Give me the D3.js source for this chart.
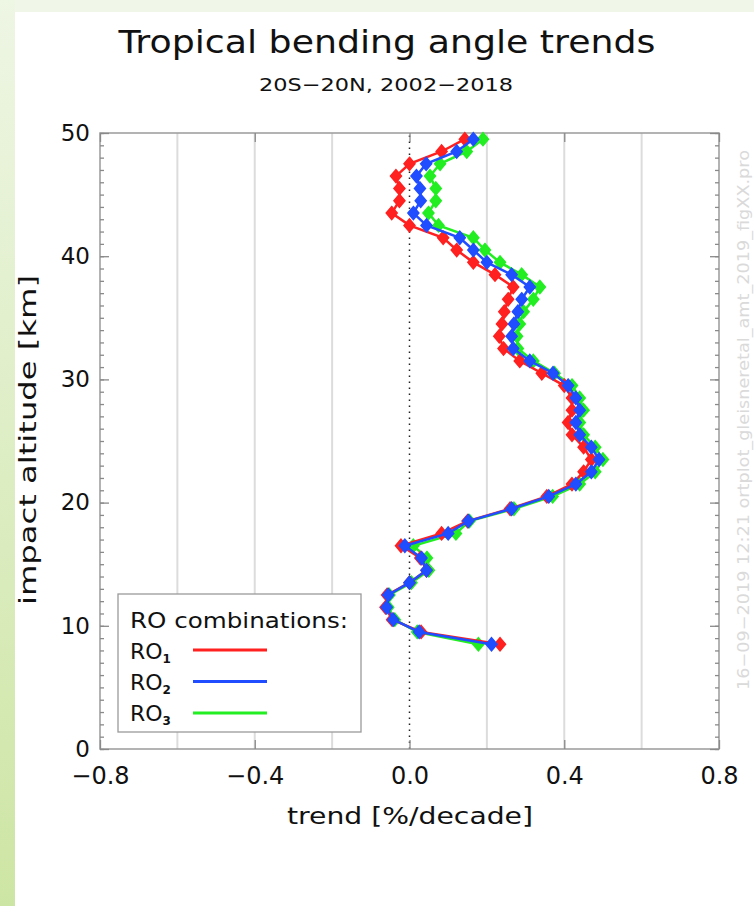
<!DOCTYPE html>
<html>
<head>
<meta charset="utf-8">
<script src="https://cdn.jsdelivr.net/npm/d3@7"></script>
<style>
  body { margin: 0; background: #fff; }
  text { font-family: "DejaVu Sans", sans-serif; fill: #111; }
</style>
</head>
<body>
<svg id="chart" width="754" height="906"></svg>
<script>
// --------------------------------------
// data
// altitude levels [km]
const levels = [49.5, 48.5, 47.5, 46.5, 45.5, 44.5, 43.5, 42.5, 41.5, 40.5,
  39.5, 38.5, 37.5, 36.5, 35.5, 34.5, 33.5, 32.5, 31.5, 30.5,
  29.5, 28.5, 27.5, 26.5, 25.5, 24.5, 23.5, 22.5, 21.5, 20.5,
  19.5, 18.5, 17.5, 16.5, 15.5, 14.5, 13.5, 12.5, 11.5, 10.5, 9.5, 8.5];

// trend [%/decade]
const ro1 = [0.143, 0.083, 0.0, -0.035, -0.026, -0.026, -0.046, 0.0, 0.087, 0.122,
  0.165, 0.221, 0.268, 0.255, 0.245, 0.239, 0.232, 0.243, 0.285, 0.342,
  0.40, 0.42, 0.42, 0.41, 0.42, 0.45, 0.47, 0.45, 0.42, 0.355,
  0.26, 0.15, 0.083, -0.022, 0.028, 0.044, 0.0, -0.058, -0.062, -0.045, 0.03, 0.234];
const ro2 = [0.165, 0.122, 0.043, 0.018, 0.027, 0.029, 0.01, 0.044, 0.13, 0.165,
  0.20, 0.264, 0.311, 0.29, 0.28, 0.27, 0.264, 0.268, 0.311, 0.371,
  0.41, 0.43, 0.44, 0.43, 0.44, 0.47, 0.49, 0.47, 0.43, 0.36,
  0.264, 0.152, 0.10, -0.012, 0.031, 0.044, 0.0, -0.055, -0.059, -0.042, 0.025, 0.212];
const ro3 = [0.19, 0.148, 0.079, 0.053, 0.068, 0.068, 0.049, 0.075, 0.165, 0.195,
  0.234, 0.29, 0.337, 0.32, 0.295, 0.285, 0.278, 0.28, 0.32, 0.375,
  0.42, 0.44, 0.45, 0.44, 0.45, 0.48, 0.50, 0.48, 0.44, 0.37,
  0.27, 0.155, 0.12, 0.01, 0.045, 0.05, 0.005, -0.052, -0.055, -0.038, 0.02, 0.178];

const seriesNames = ["1", "2", "3"];
const seriesColors = ["#ff2020", "#1f4dff", "#22ee22"];

const xTicks = [-0.8, -0.4, 0.0, 0.4, 0.8];
const xGrid = [-0.6, -0.4, -0.2, 0.2, 0.4, 0.6];
const yTicks = [0, 10, 20, 30, 40, 50];
//-------------------------------------

const svg = d3.select("#chart");

// page border (light green like the slide background)
const grad = svg.append("defs").append("linearGradient")
  .attr("id", "side").attr("x1", 0).attr("y1", 0).attr("x2", 0).attr("y2", 1);
grad.append("stop").attr("offset", "0%").attr("stop-color", "#eef6e4");
grad.append("stop").attr("offset", "100%").attr("stop-color", "#cde5a4");
svg.append("rect").attr("x", 0).attr("y", 0).attr("width", 754).attr("height", 12).attr("fill", "#f0f6e8");
svg.append("rect").attr("x", 0).attr("y", 0).attr("width", 15).attr("height", 906).attr("fill", "url(#side)");

// scales
const x = d3.scaleLinear().domain([-0.8, 0.8]).range([100, 719]);
const y = d3.scaleLinear().domain([0, 50]).range([749, 133]);

// grid lines
svg.append("g")
  .selectAll("line")
  .data(xGrid)
  .enter()
  .append("line")
  .attr("x1", (d) => x(d)).attr("x2", (d) => x(d))
  .attr("y1", y(0)).attr("y2", y(50))
  .attr("stroke", "#dcdcdc")
  .attr("stroke-width", 2);

// zero line
svg.append("line")
  .attr("x1", x(0)).attr("x2", x(0))
  .attr("y1", y(0)).attr("y2", y(50))
  .attr("stroke", "#222")
  .attr("stroke-width", 1.5)
  .attr("stroke-dasharray", "1.5,4.5");

// frame
svg.append("rect")
  .attr("x", x(-0.8)).attr("y", y(50))
  .attr("width", x(0.8) - x(-0.8)).attr("height", y(0) - y(50))
  .attr("fill", "none")
  .attr("stroke", "#9a9a9a")
  .attr("stroke-width", 1.5);

// axes
function styleAxis(g) {
  g.select(".domain").remove();
  g.selectAll(".tick line").attr("stroke", "#8a8a8a").attr("stroke-width", 1.3);
  g.selectAll("text").style("font-size", "23px").attr("fill", "#111");
}

svg.append("g").attr("transform", "translate(" + x(-0.8) + ",0)")
  .call(d3.axisLeft(y).tickValues(d3.range(0, 51, 1)).tickSize(-4).tickFormat(""))
  .call(styleAxis);
svg.append("g").attr("transform", "translate(" + x(-0.8) + ",0)")
  .call(d3.axisLeft(y).tickValues(yTicks).tickSize(-9).tickPadding(10).tickFormat(d3.format("d")))
  .call(styleAxis);
svg.append("g").attr("transform", "translate(" + x(0.8) + ",0)")
  .call(d3.axisRight(y).tickValues(d3.range(0, 51, 1)).tickSize(-4).tickFormat(""))
  .call(styleAxis);
svg.append("g").attr("transform", "translate(" + x(0.8) + ",0)")
  .call(d3.axisRight(y).tickValues(yTicks).tickSize(-9).tickFormat(""))
  .call(styleAxis);
svg.append("g").attr("transform", "translate(0," + y(0) + ")")
  .call(d3.axisBottom(x).tickValues(xTicks).tickSize(-9).tickPadding(18).tickFormat(d3.format(".1f")))
  .call(styleAxis)
  .call((g) => g.selectAll("text").style("font-size", "24px"));
svg.append("g").attr("transform", "translate(0," + y(50) + ")")
  .call(d3.axisTop(x).tickValues(xTicks).tickSize(-9).tickFormat(""))
  .call(styleAxis);

// series
const series = [ro3, ro1, ro2];
const colors = [seriesColors[2], seriesColors[0], seriesColors[1]];
const line = d3.line().x((d) => x(d[0])).y((d) => y(d[1]));
const diamond = "M0,-6.5L5.5,0L0,6.5L-5.5,0Z";

series.forEach(function (vals, i) {
  const pts = vals.map((v, j) => [v, levels[j]]);
  svg.append("path")
    .datum(pts)
    .attr("d", line)
    .attr("fill", "none")
    .attr("stroke", colors[i])
    .attr("stroke-width", 2.5);
  svg.append("g")
    .selectAll("path")
    .data(pts)
    .enter()
    .append("path")
    .attr("d", diamond)
    .attr("transform", (d) => "translate(" + x(d[0]) + "," + y(d[1]) + ")")
    .attr("fill", colors[i])
    .attr("stroke", colors[i])
    .attr("stroke-width", 1.5);
});

// legend
const lg = svg.append("g");
lg.append("rect")
  .attr("x", 118).attr("y", 594).attr("width", 243).attr("height", 138)
  .attr("fill", "#fff").attr("stroke", "#9a9a9a").attr("stroke-width", 1.3);
lg.append("text").attr("x", 130).attr("y", 628)
  .attr("textLength", 218).attr("lengthAdjust", "spacingAndGlyphs")
  .style("font-size", "22px").text("RO combinations:");
seriesNames.forEach(function (n, i) {
  const t = lg.append("text").attr("x", 130).attr("y", 659 + i * 31).style("font-size", "22px");
  t.append("tspan").text("RO");
  t.append("tspan").attr("dy", 4).style("font-size", "12px").style("font-weight", "bold").text(n);
  lg.append("line")
    .attr("x1", 193).attr("x2", 267)
    .attr("y1", 650 + i * 31.5).attr("y2", 650 + i * 31.5)
    .attr("stroke", seriesColors[i]).attr("stroke-width", 3);
});

// titles
svg.append("text")
  .attr("x", 387).attr("y", 53)
  .attr("text-anchor", "middle")
  .attr("textLength", 537).attr("lengthAdjust", "spacingAndGlyphs")
  .style("font-size", "32px")
  .text("Tropical bending angle trends");
svg.append("text")
  .attr("x", 386).attr("y", 91)
  .attr("text-anchor", "middle")
  .attr("textLength", 254).attr("lengthAdjust", "spacingAndGlyphs")
  .style("font-size", "18px")
  .text("20S\u221220N, 2002\u22122018");

// axis labels
svg.append("text")
  .attr("x", 410).attr("y", 824)
  .attr("text-anchor", "middle")
  .attr("textLength", 246).attr("lengthAdjust", "spacingAndGlyphs")
  .style("font-size", "23px")
  .text("trend [%/decade]");
svg.append("text")
  .attr("text-anchor", "middle")
  .attr("transform", "translate(36,440)rotate(-90)")
  .attr("textLength", 330).attr("lengthAdjust", "spacingAndGlyphs")
  .style("font-size", "23px")
  .text("impact altitude [km]");

// plot stamp on the right edge
svg.append("text")
  .attr("transform", "translate(749,690)rotate(-90)")
  .attr("textLength", 540).attr("lengthAdjust", "spacingAndGlyphs")
  .style("font-size", "15px")
  .style("fill", "#dadada")
  .text("16\u221209\u22122019 12:21    ortplot_gleisneretal_amt_2019_figXX.pro");
</script>
</body>
</html>
